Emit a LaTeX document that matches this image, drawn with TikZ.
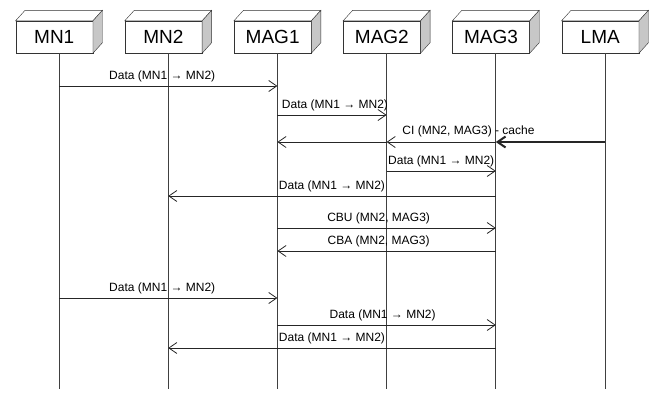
\documentclass[tikz,border=0pt]{standalone}
\usepackage{fontspec}
\setmainfont{Liberation Sans}
\usetikzlibrary{arrows.meta}
\tikzset{
  entity/.style={draw=black!80, fill=white, minimum width=77pt, minimum height=32pt,
    inner sep=0pt, font=\fontsize{19}{22}\selectfont},
  life/.style={draw=black!75, line width=0.8pt},
  msg/.style={draw=black!85, line width=0.8pt, -{Straight Barb[length=8pt,width=11pt]}},
  lbl/.style={above=3pt, inner sep=1pt, font=\fontsize{12}{14}\selectfont}
}
\begin{document}
\begin{tikzpicture}[x=1pt,y=-1pt]
\useasboundingbox (0,0) rectangle (661,392);
% entities with lifelines
\foreach \name/\txt [count=\i from 0] in {mn1/MN1,mn2/MN2,mag1/MAG1,mag2/MAG2,mag3/MAG3,lma/LMA}
{
  \node[entity] (\name) at (59+109.2*\i-4.75, 37) {\txt};
  \draw[draw=black!80, fill=white] (\name.north west) -- ++(9.5,-10.5)
    -- ([shift={(9.5,-10.5)}]\name.north east) -- (\name.north east) -- cycle;
  \draw[draw=black!80, fill=black!22] (\name.north east) -- ++(9.5,-10.5)
    -- ([shift={(9.5,-10.5)}]\name.south east) -- (\name.south east) -- cycle;
  \coordinate (L-\name) at ([xshift=4.75pt]\name.south);
  \draw[life] (L-\name) -- (L-\name |- 0,389);
}
% messages
\draw[msg] (L-mn1 |- 0,86) -- node[lbl, xshift=-6pt] (m1) {Data (MN1 → MN2)} (L-mag1 |- 0,86);
\draw[msg] (L-mag1 |- 0,115) -- node[lbl, xshift=3pt] (m2) {Data (MN1 → MN2)} (L-mag2 |- 0,115);
\draw[msg, line width=2pt] (L-lma |- 0,142) -- node[lbl, pos=1.25] (m3) {CI (MN2, MAG3) - cache} (L-mag3 |- 0,142);
\draw[msg] (L-mag3 |- 0,142) -- (L-mag2 |- 0,142);
\draw[msg] (L-mag2 |- 0,142) -- (L-mag1 |- 0,142);
\draw[msg] (L-mag2 |- 0,171) -- node[lbl] (m4) {Data (MN1 → MN2)} (L-mag3 |- 0,171);
\draw[msg] (L-mag3 |- 0,196) -- node[lbl] (m5) {Data (MN1 → MN2)} (L-mn2 |- 0,196);
\draw[msg] (L-mag1 |- 0,228) -- node[lbl, xshift=-8pt] (m6) {CBU (MN2, MAG3)} (L-mag3 |- 0,228);
\draw[msg] (L-mag3 |- 0,251) -- node[lbl, xshift=-8pt] (m7) {CBA (MN2, MAG3)} (L-mag1 |- 0,251);
\draw[msg] (L-mn1 |- 0,298) -- node[lbl, xshift=-6pt] (m8) {Data (MN1 → MN2)} (L-mag1 |- 0,298);
\draw[msg] (L-mag1 |- 0,325) -- node[lbl, xshift=-4pt] (m9) {Data (MN1 → MN2)} (L-mag3 |- 0,325);
\draw[msg] (L-mag3 |- 0,348) -- node[lbl] (m10) {Data (MN1 → MN2)} (L-mn2 |- 0,348);
\end{tikzpicture}
\end{document}
